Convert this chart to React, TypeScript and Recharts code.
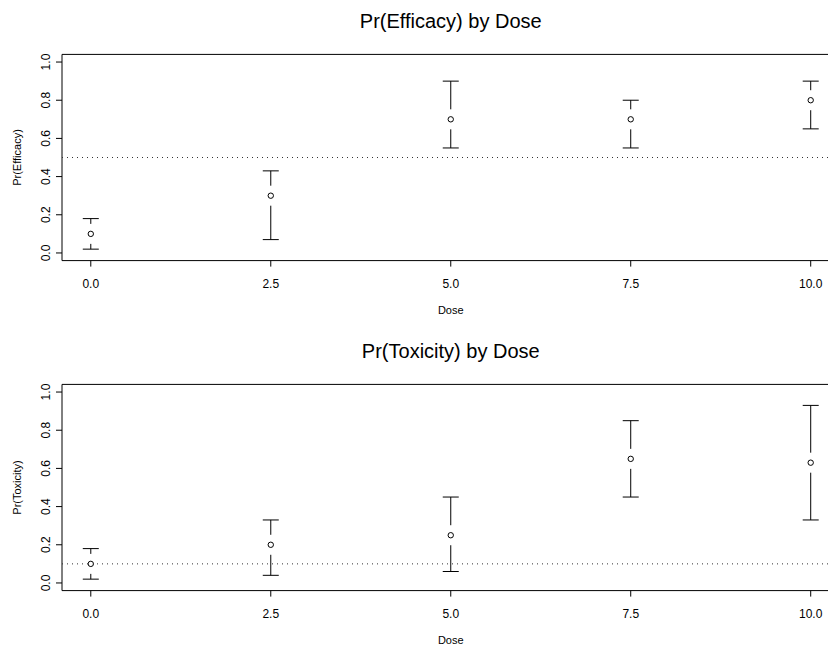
import React from 'react';
import {
    ScatterChart, Scatter, XAxis, YAxis, ErrorBar,
    ReferenceLine, ReferenceArea,
} from 'recharts';

const DOSES = [0, 2.5, 5, 7.5, 10];
const X_TICKS = [0, 2.5, 5, 7.5, 10];
const Y_TICKS = [0, 0.2, 0.4, 0.6, 0.8, 1.0];

const EFF_MEAN = [0.10, 0.30, 0.70, 0.70, 0.80];
const EFF_LOW = [0.02, 0.07, 0.55, 0.55, 0.65];
const EFF_HIGH = [0.18, 0.43, 0.90, 0.80, 0.90];
const EFF_TARGET = 0.5;

const TOX_MEAN = [0.10, 0.20, 0.25, 0.65, 0.63];
const TOX_LOW = [0.02, 0.04, 0.06, 0.45, 0.33];
const TOX_HIGH = [0.18, 0.33, 0.45, 0.85, 0.93];
const TOX_TARGET = 0.1;

const FONT = '"Liberation Sans", Arial, Helvetica, sans-serif';
const W = 850;
const H = 330;
const X_AXIS_H = 30;
const Y_AXIS_W = 60;
// plot box: left 62, top 54.4, bottom 260.6 (right edge falls outside the window)
const M = { top: 54.4, right: 10.5, bottom: 69.4 - X_AXIS_H, left: 62 - Y_AXIS_W };

const XTick = ({ x, y, payload }: any) => (
    <text x={x} y={y + 21.5} textAnchor="middle" fontSize={12} fontFamily={FONT} fill="#000">
        {Number(payload.value).toFixed(1)}
    </text>
);

const YTick = ({ x, y, payload }: any) => (
    <text
        x={x - 6}
        y={y}
        transform={`rotate(-90 ${x - 6} ${y})`}
        textAnchor="middle"
        fontSize={12}
        fontFamily={FONT}
        fill="#000"
    >
        {Number(payload.value).toFixed(1)}
    </text>
);

// hidden marker for the series that only carries the error bars
const NoShape = () => <g />;

// open circle with the vertical bar cut away around it
const PointShape = ({ cx, cy }: any) => (
    <g>
        <rect x={cx - 2} y={cy - 10} width={4} height={20} fill="#fff" />
        <circle cx={cx} cy={cy} r={2.7} fill="none" stroke="#000" strokeWidth={1} />
    </g>
);

interface PanelProps {
    title: string;
    yLabel: string;
    means: number[];
    lows: number[];
    highs: number[];
    target: number;
}

function Panel({ title, yLabel, means, lows, highs, target }: PanelProps) {
    const data = DOSES.map((d, i) => ({
        dose: d,
        mean: means[i],
        err: [means[i] - lows[i], highs[i] - means[i]],
    }));
    const plotLeft = 62;
    const plotCx = plotLeft + (W - plotLeft - M.right) / 2;
    const plotCy = 54.4 + (260.6 - 54.4) / 2;

    return (
        <div style={{ position: 'relative', width: W, height: H }}>
            <ScatterChart width={W} height={H} margin={M}>
                <XAxis
                    type="number"
                    dataKey="dose"
                    domain={[-0.4, 10.4]}
                    ticks={X_TICKS}
                    allowDataOverflow
                    interval={0}
                    height={X_AXIS_H}
                    axisLine={false}
                    tickLine={{ stroke: '#000' }}
                    tickSize={6}
                    tickMargin={0}
                    tick={<XTick />}
                />
                <YAxis
                    type="number"
                    dataKey="mean"
                    domain={[-0.04, 1.04]}
                    ticks={Y_TICKS}
                    allowDataOverflow
                    interval={0}
                    width={Y_AXIS_W}
                    axisLine={false}
                    tickLine={{ stroke: '#000' }}
                    tickSize={6}
                    tickMargin={0}
                    tick={<YTick />}
                />
                <ReferenceArea
                    x1={-0.4} x2={10.4} y1={-0.04} y2={1.04}
                    fill="none" fillOpacity={0} stroke="#000" strokeWidth={1}
                    ifOverflow="visible"
                />
                <ReferenceLine y={target} stroke="#333" strokeDasharray="1 4" strokeWidth={1} />
                <Scatter data={data} dataKey="mean" shape={<NoShape />} isAnimationActive={false}>
                    <ErrorBar dataKey="err" direction="y" width={8} stroke="#000" strokeWidth={1} isAnimationActive={false} />
                </Scatter>
                <Scatter data={data} dataKey="mean" shape={<PointShape />} isAnimationActive={false} />
            </ScatterChart>
            <svg
                width={W}
                height={H}
                style={{ position: 'absolute', left: 0, top: 0, pointerEvents: 'none' }}
            >
                <text x={plotCx} y={27.5} textAnchor="middle" fontSize={20} fontFamily={FONT} fill="#000">
                    {title}
                </text>
                <text x={plotCx} y={314} textAnchor="middle" fontSize={11} fontFamily={FONT} fill="#000">
                    Dose
                </text>
                <text
                    x={21}
                    y={plotCy}
                    transform={`rotate(-90 21 ${plotCy})`}
                    textAnchor="middle"
                    fontSize={11}
                    fontFamily={FONT}
                    fill="#000"
                >
                    {yLabel}
                </text>
            </svg>
        </div>
    );
}

export default function App() {
    return (
        <div
            style={{
                position: 'absolute', left: 0, top: 0,
                width: 828, height: 645, overflow: 'hidden', background: '#fff',
            }}
        >
            <Panel
                title="Pr(Efficacy) by Dose"
                yLabel="Pr(Efficacy)"
                means={EFF_MEAN}
                lows={EFF_LOW}
                highs={EFF_HIGH}
                target={EFF_TARGET}
            />
            <Panel
                title="Pr(Toxicity) by Dose"
                yLabel="Pr(Toxicity)"
                means={TOX_MEAN}
                lows={TOX_LOW}
                highs={TOX_HIGH}
                target={TOX_TARGET}
            />
        </div>
    );
}
